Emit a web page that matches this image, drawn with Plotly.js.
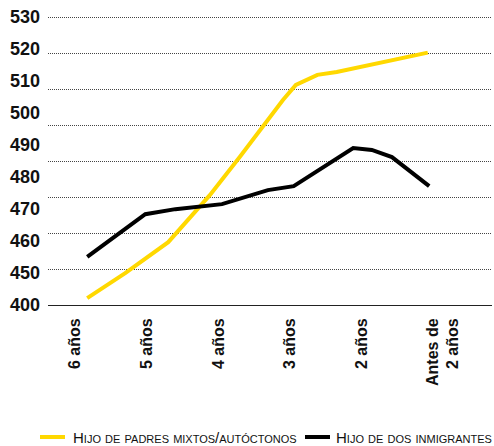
<!DOCTYPE html>
<html>
<head>
<meta charset="utf-8">
<script src="https://cdn.plot.ly/plotly-3.0.1.min.js"></script>
<style>
  html, body { margin: 0; padding: 0; background: #fff; }
  #chart { width: 494px; height: 446px; }
</style>
</head>
<body>
<div id="chart"></div>
<script>
// Category labels of the x axis (age groups)
const categories = ['6 años', '5 años', '4 años', '3 años', '2 años', 'Antes de<br>2 años'];

// y-axis tick labels as printed in the original (broken axis)
const yTickLabels = ['400', '450', '460', '470', '480', '490', '500', '510', '520', '530'];

// Series names and colours
const seriesNames = ['Hijo de padres mixtos/autóctonos', 'Hijo de dos inmigrantes'];
const seriesColors = ['#FFD800', '#000000'];

// Series 1: Hijo de padres mixtos/autóctonos (x along category axis, y score)
const mixtosX = [0.17, 0.70, 1.30, 1.88, 2.30, 2.90, 3.08, 3.38, 3.65, 4.92];
const mixtosY = [451.9, 458.9, 467.5, 480.6, 491.3, 507.1, 511.3, 514.1, 514.9, 520.3];

// Series 2: Hijo de dos inmigrantes
const inmigX = [0.17, 0.98, 1.40, 2.05, 2.69, 3.05, 3.88, 4.14, 4.42, 4.94];
const inmigY = [463.4, 475.3, 476.7, 478.1, 482.0, 483.1, 493.7, 493.2, 491.2, 483.1];

const FONT = '"Liberation Sans", Arial, Helvetica, sans-serif';

const traces = [
  {
    x: mixtosX, y: mixtosY, type: 'scatter', mode: 'lines',
    name: seriesNames[0],
    line: { color: seriesColors[0], width: 4 }
  },
  {
    x: inmigX, y: inmigY, type: 'scatter', mode: 'lines',
    name: seriesNames[1],
    line: { color: seriesColors[1], width: 4 }
  },
  // invisible trace to activate the label axis yaxis2
  { x: [0], y: [0], yaxis: 'y2', type: 'scatter', mode: 'markers',
    marker: { opacity: 0 }, showlegend: false, hoverinfo: 'skip' }
];

// Manual legend (paper coordinates) so it does not push the margins
const W = 494, H = 446, ML = 48, MR = 2, MT = 14, MB = 141;
const pw = W - ML - MR, ph = H - MT - MB;
const px = v => (v - ML) / pw;
const py = v => (H - MB - v) / ph;
const legendItems = [
  { x0: 40, x1: 65, tx: 71 },
  { x0: 305, x1: 330, tx: 334 }
];
const legendY = 437;
const shapes = legendItems.map((it, i) => ({
  type: 'line', xref: 'paper', yref: 'paper',
  x0: px(it.x0), x1: px(it.x1), y0: py(legendY), y1: py(legendY),
  line: { color: seriesColors[i], width: 4 }
}));
const annotations = legendItems.map((it, i) => ({
  xref: 'paper', yref: 'paper', x: px(it.tx), y: py(legendY),
  xanchor: 'left', yanchor: 'middle', showarrow: false,
  text: seriesNames[i],
  font: { family: FONT, size: 15, variant: 'small-caps', color: '#111' }
}));

const layout = {
  width: W, height: H,
  margin: { l: ML, r: MR, t: MT, b: MB, pad: 0 },
  paper_bgcolor: '#ffffff', plot_bgcolor: '#ffffff',
  showlegend: false,
  font: { family: FONT, color: '#111' },
  xaxis: {
    range: [-0.377, 5.816],
    tickmode: 'array',
    tickvals: [0, 1, 2, 3, 4, 5.13],
    ticktext: categories,
    tickangle: -90,
    tickfont: { family: FONT, size: 16, weight: 'bold', color: '#111' },
    ticks: '', showgrid: false, zeroline: false,
    showline: true, linecolor: '#222', linewidth: 1,
    ticklabelstandoff: 6,
    automargin: false,
    fixedrange: true
  },
  yaxis: {
    range: [450, 531.06],
    tickmode: 'array',
    tickvals: [460, 470, 480, 490, 500, 510, 520, 530],
    showticklabels: false,
    ticks: '',
    showgrid: true, gridcolor: '#444', gridwidth: 1, griddash: '1px,1px',
    zeroline: false, showline: false,
    automargin: false,
    fixedrange: true
  },
  yaxis2: {
    overlaying: 'y', side: 'left', anchor: 'x',
    range: [0, 9.085],
    tickmode: 'array',
    tickvals: yTickLabels.map((_, i) => i),
    ticktext: yTickLabels,
    tickfont: { family: FONT, size: 18, weight: 'bold', color: '#111' },
    ticks: '', showgrid: false, zeroline: false, showline: false,
    ticklabelstandoff: 7,
    automargin: false,
    fixedrange: true
  },
  shapes: shapes,
  annotations: annotations
};

Plotly.newPlot('chart', traces, layout, { displayModeBar: false, staticPlot: true });
</script>
</body>
</html>
